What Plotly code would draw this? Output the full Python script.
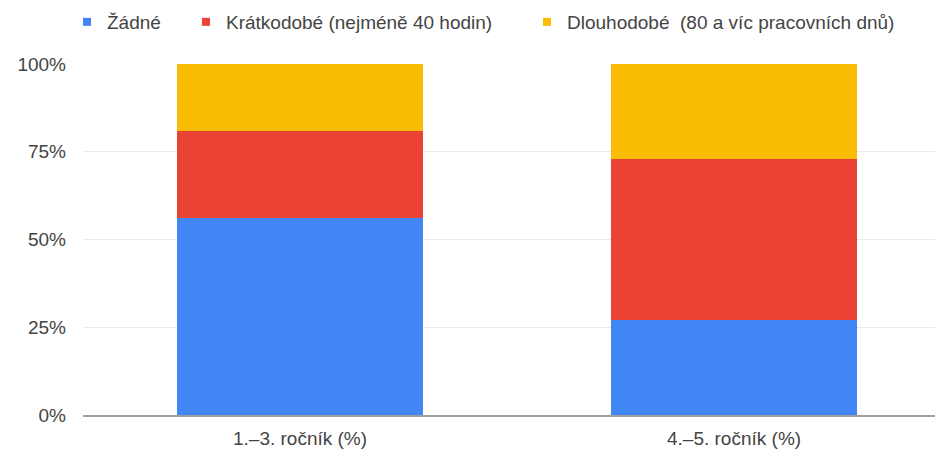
import plotly.graph_objects as go

categories = ["1.–3. ročník (%)", "4.–5. ročník (%)"]
series_names = ["Žádné", "Krátkodobé (nejméně 40 hodin)", "Dlouhodobé  (80 a víc pracovních dnů)"]
zadne = [56, 27]
kratkodobe = [25, 46]
dlouhodobe = [19, 27]
y_ticks = [0, 25, 50, 75, 100]
y_tick_labels = ["0%", "25%", "50%", "75%", "100%"]

colors = ["#4285F4", "#EA4335", "#FBBC04"]
values = [zadne, kratkodobe, dlouhodobe]
legend_ids = ["legend", "legend2", "legend3"]

W, H = 935, 451
FONT = "Liberation Sans, Arial, sans-serif"
TXT = "#444444"
FS = 19

fig = go.Figure()
for name, vals, col in zip(series_names, values, colors):
    fig.add_trace(go.Bar(x=categories, y=vals, name=name, marker=dict(color=col, line=dict(width=0)),
                         width=0.567, showlegend=False))
for name, col, lg in zip(series_names, colors, legend_ids):
    fig.add_trace(go.Scatter(x=[None], y=[None], mode="markers", name=name, legend=lg,
                             marker=dict(symbol="square", size=8, color=col)))

leg_x = [67, 186, 527]
legend_common = dict(orientation="h", xref="container", yref="container", yanchor="middle",
                     xanchor="left", y=1 - 22 / H, bgcolor="rgba(0,0,0,0)", borderwidth=0,
                     font=dict(family=FONT, size=FS, color=TXT), itemwidth=30)
layout_legends = {}
for lg, xp in zip(legend_ids, leg_x):
    layout_legends[lg] = dict(legend_common, x=xp / W)

fig.update_layout(
    width=W, height=H,
    margin=dict(l=83, r=0, t=64, b=36),
    paper_bgcolor="white", plot_bgcolor="white",
    barmode="stack",
    font=dict(family=FONT, size=FS, color=TXT),
    **layout_legends,
)
fig.update_xaxes(type="category", range=[-0.5, 1.463], showline=True, linecolor="#9e9e9e", linewidth=2,
                 showgrid=False, ticks="", ticklabelstandoff=5, tickfont=dict(size=FS, color=TXT))
fig.update_yaxes(range=[0, 100], tickvals=y_ticks, ticktext=y_tick_labels, showgrid=True,
                 gridcolor="#ebebeb", gridwidth=1, zeroline=False, showline=False, ticks="",
                 ticklabelstandoff=16, tickfont=dict(size=FS, color=TXT))

fig.write_html("out.html", config={"displayModeBar": False},
               post_script="document.body.style.margin='0';document.body.style.overflow='hidden';")
